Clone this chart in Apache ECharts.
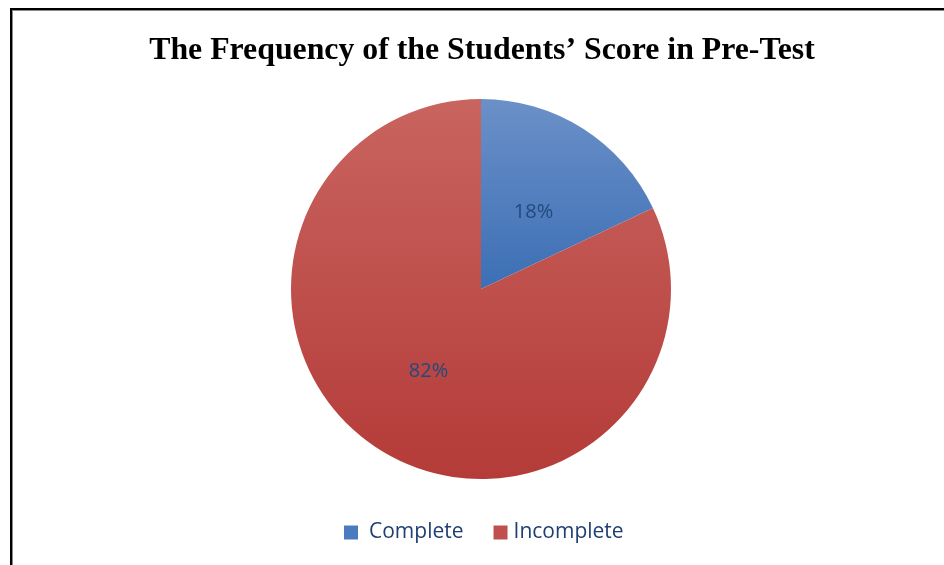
<!DOCTYPE html>
<html>
<head>
<meta charset="utf-8">
<script src="https://cdn.jsdelivr.net/npm/echarts@6/dist/echarts.min.js"></script>
<style>
html,body{margin:0;padding:0;background:#fff;}
#frame{position:absolute;left:10px;top:8px;width:940px;height:570px;border-top:2px solid #000;border-left:2px solid #000;box-shadow:inset 1px 1px 0 #888;}
#chart{position:absolute;left:0;top:0;width:944px;height:565px;}
</style>
</head>
<body>
<div id="frame"></div>
<div id="chart"></div>
<script>
const titleText = 'The Frequency of the Students\u2019 Score in Pre-Test';
const categories = ['Complete', 'Incomplete'];
const values = [18, 82];
const topColors = ['#6B90C8', '#C9645F'];
const bottomColors = ['#3C6FB5', '#B43B38'];
const legendColors = ['#4A7BBE', '#C0504D'];
const legendTextPad = [6, 1];

const chart = echarts.init(document.getElementById('chart'), null, {renderer: 'canvas'});
const data = categories.map((c, i) => ({
  name: c,
  value: values[i],
  itemStyle: {
    color: {
      type: 'linear', x: 0, y: 0, x2: 0, y2: 1,
      colorStops: [{offset: 0, color: topColors[i]}, {offset: 1, color: bottomColors[i]}]
    }
  },
  label: i === 0 ? {offset: [0, 6]} : {}
}));
chart.setOption({
  backgroundColor: 'transparent',
  animation: false,
  title: {
    text: titleText,
    left: 477,
    textAlign: 'center',
    top: 30,
    textStyle: {fontFamily: 'Liberation Serif', fontWeight: 'bold', fontSize: 31.8, color: '#000'}
  },
  legend: {
    data: categories.map((c, i) => ({
      name: c,
      itemStyle: {color: legendColors[i]},
      textStyle: {padding: [0, 0, 0, legendTextPad[i]]}
    })),
    left: 339,
    top: 517,
    itemWidth: 14,
    itemHeight: 14,
    itemGap: 30,
    icon: 'rect',
    textStyle: {fontFamily: 'Open Sans', fontSize: 21, color: '#1F3F73'}
  },
  series: [{
    type: 'pie',
    center: [481, 289],
    radius: [0, 190],
    startAngle: 90,
    clockwise: true,
    avoidLabelOverlap: false,
    data: data,
    label: {
      show: true,
      position: 'inside',
      formatter: '{d}%',
      fontFamily: 'Open Sans',
      fontSize: 20,
      color: '#23497E'
    },
    labelLine: {show: false},
    itemStyle: {borderWidth: 0},
    emphasis: {disabled: true}
  }]
});
</script>
</body>
</html>
